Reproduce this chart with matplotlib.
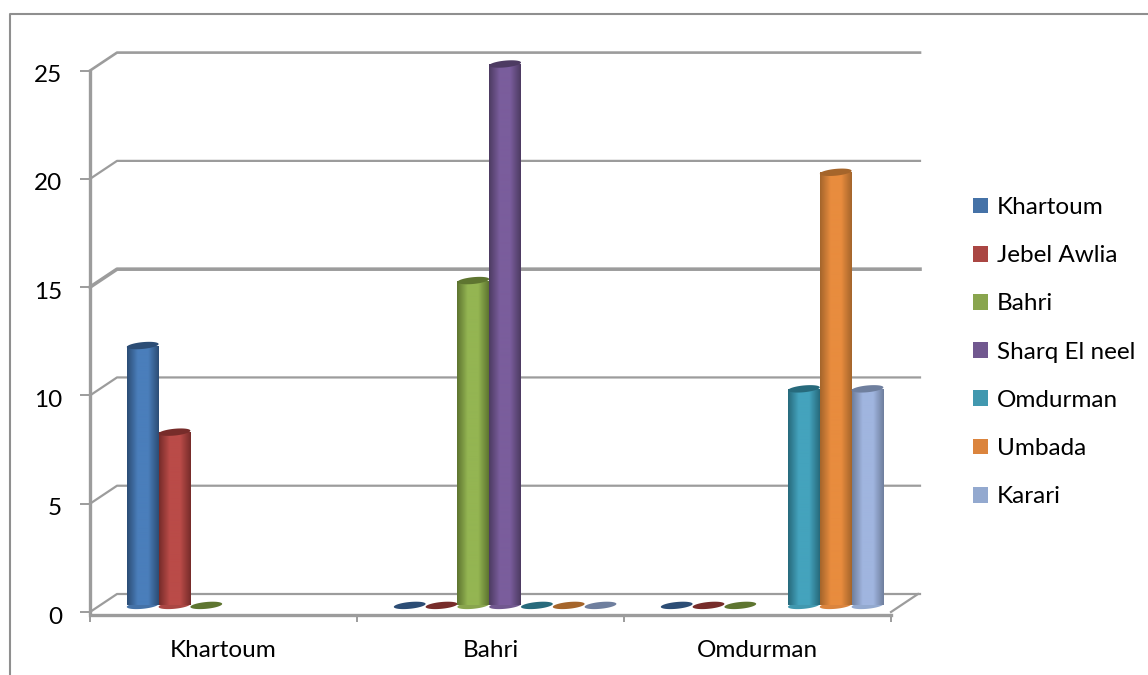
import numpy as np
import matplotlib
matplotlib.use("Agg")
import matplotlib.pyplot as plt
from matplotlib.colors import LinearSegmentedColormap
from matplotlib.lines import Line2D
from matplotlib.patches import Patch, Polygon
from matplotlib.transforms import ScaledTranslation

plt.rcParams["font.family"] = ["Lato", "DejaVu Sans"]

categories = ["Khartoum", "Bahri", "Omdurman"]
series_names = ["Khartoum", "Jebel Awlia", "Bahri", "Sharq El neel",
                "Omdurman", "Umbada", "Karari"]

# one list per locality, nan = no cell in the sheet
khartoum = [12, 0, 0]
jebel_awlia = [8, 0, 0]
bahri = [0, 15, 0]
sharq_el_neel = [np.nan, 25, np.nan]
omdurman = [np.nan, 0, 10]
umbada = [np.nan, 0, 20]
karari = [np.nan, 0, 10]
series_values = [khartoum, jebel_awlia, bahri, sharq_el_neel,
                 omdurman, umbada, karari]

y_ticks = [0, 5, 10, 15, 20, 25]
grid_widths = [1.6, 1.6, 1.6, 2.6, 1.6, 1.9]

light = ["#4A7EBB", "#BA4B48", "#94B552", "#7A5D9C", "#44A3BD", "#E88C3E", "#A0B5DF"]
dark = ["#2C4D75", "#772C2A", "#5E7530", "#4D3B62", "#276A7C", "#A5652B", "#6F7F9E"]
swatch = ["#4572A7", "#AA4643", "#89A54E", "#71588F", "#4198AF", "#DB843D", "#93A9CF"]

GREY = "#9C9C9C"

W, H = 1148, 675
fig = plt.figure(figsize=(W / 100, H / 100), dpi=100)
ax = fig.add_axes([90 / W, (H - 612) / H, 801 / W, 541.4 / H])
ax.set_xlim(0, 3)
ax.set_ylim(0, 25)

# pixel sizes expressed in data units
px = 3 / 801
py = 25 / 541.4
depth_x = 27 * px
depth_y = 18 * py

# frame around the chart area, only top and left are on the sheet
fig.add_artist(Line2D([10 / W, 10 / W, 1], [0, 1 - 14 / H, 1 - 14 / H],
                      color="#8F8F8F", lw=1.5))

# back wall gridlines with the short diagonal on the side wall
for v, lw in zip(y_ticks, grid_widths):
    ax.plot([0, depth_x, 3 + depth_x + 2 * px], [v, v + depth_y, v + depth_y],
            color=GREY, lw=lw, clip_on=False, zorder=1)
ax.plot([3, 3 + depth_x], [0, depth_y], color=GREY, lw=1.6, clip_on=False, zorder=1)

bar_w = 31.8 * px
lift = 6.6 * py
shift = 14.6 * px


def cap(xc, yc, color, zorder):
    # tilted disc for the cylinder ends
    t = np.linspace(0, 2 * np.pi, 60)
    xs = np.cos(t) * bar_w / 2
    ys = np.sin(t) * 3.4 * py + xs * (1.5 * py) / (bar_w / 2)
    ax.add_patch(Polygon(np.column_stack([xc + xs, yc + ys]), closed=True,
                         facecolor=color, edgecolor="none",
                         clip_on=False, zorder=zorder))


for j, values in enumerate(series_values):
    cmap = LinearSegmentedColormap.from_list(
        "cyl", [dark[j], light[j], light[j], dark[j]])
    for i, v in enumerate(values):
        if np.isnan(v):
            continue
        xc = i + 0.5 + shift + (j - 3) * bar_w
        if v == 0:
            cap(xc, lift, dark[j], 3 + j)
            continue
        cap(xc, lift, swatch[j], 3 + j)
        bar = ax.bar(xc, v, width=bar_w, bottom=lift, color=light[j], zorder=3 + j)[0]
        shade = ax.imshow(np.linspace(0, 1, 64).reshape(1, -1), cmap=cmap,
                          extent=(xc - bar_w / 2, xc + bar_w / 2, lift, lift + v),
                          aspect="auto", interpolation="bilinear", zorder=3 + j)
        shade.set_clip_path(bar)
        cap(xc, lift + v, dark[j], 3 + j)

ax.set_xlim(0, 3)
ax.set_ylim(0, 25)

# axes
for side in ["top", "right"]:
    ax.spines[side].set_visible(False)
ax.spines["left"].set(color=GREY, linewidth=2.4)
ax.spines["bottom"].set(color=GREY, linewidth=2.4, position=("outward", 2))
ax.patch.set_alpha(0)

ax.set_yticks(y_ticks)
ax.set_xticks(range(4))
ax.set_xticklabels([])
ax.set_xticks([0.5, 1.5, 2.5], minor=True)
ax.set_xticklabels(categories, minor=True)
ax.tick_params(axis="y", length=7, width=1.4, color=GREY, labelsize=17.5, pad=13)
ax.tick_params(axis="x", which="major", length=5, width=1.4, color=GREY)
ax.tick_params(axis="x", which="minor", length=0, labelsize=17.5, pad=18.5)

# y labels sit a little below their ticks
nudge = ScaledTranslation(0, -3 / 100, fig.dpi_scale_trans)
for label in ax.get_yticklabels():
    label.set_transform(label.get_transform() + nudge)

handles = [Patch(facecolor=c, edgecolor="none") for c in swatch]
fig.legend(handles, series_names, loc="upper left",
           bbox_to_anchor=(973 / W, 1 - 197 / H), frameon=False,
           fontsize=17.5, handlelength=0.62, handleheight=0.62,
           handletextpad=0.37, labelspacing=1.12, borderaxespad=0, borderpad=0)

fig.savefig("out.png", dpi=100)
